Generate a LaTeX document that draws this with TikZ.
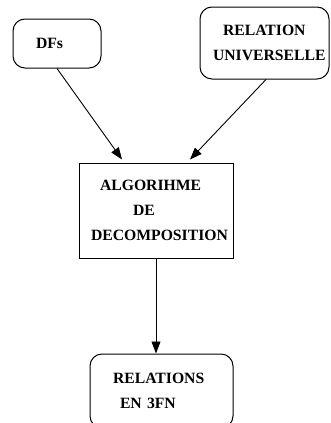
\documentclass[tikz,border=0pt]{standalone}
\usepackage{fontspec}
\setmainfont{Liberation Serif}
\usetikzlibrary{arrows.meta, positioning}
\newcommand{\diagfont}{\fontsize{15.7}{25}\selectfont\bfseries}

\begin{document}
\begin{tikzpicture}[x=1pt, y=-1pt,
    roundbox/.style={draw=black, line width=1pt, rounded corners=12pt, align=left, font=\diagfont},
    squarebox/.style={draw=black, line width=1pt, align=left, font=\diagfont},
    arrow/.style={-{Triangle[length=12pt, width=9pt]}, line width=0.9pt, draw=black}
  ]
  \useasboundingbox (0,0) rectangle (330,423);

  % Inputs
  \node[roundbox, minimum width=88pt, minimum height=49pt, inner xsep=23pt, text width=42pt] (dfs) at (57,43.5) {DFs};
  \node[roundbox, minimum width=129pt, minimum height=72pt, inner xsep=13pt, text width=103pt] (univ) at (264.5,43) {\hspace*{10pt}RELATION\\UNIVERSELLE};

  % Algorithm box
  \node[squarebox, minimum width=154pt, minimum height=95pt, inner xsep=12pt, text width=130pt] (algo) at (156,210.5) {\hspace*{9pt}ALGORIHME\\\hspace*{42pt}DE\\DECOMPOSITION};

  % Output
  \node[roundbox, minimum width=143pt, minimum height=74pt, inner xsep=23pt, text width=97pt] (rel3fn) at (161.5,391) {RELATIONS\\\hspace*{7pt}EN 3FN};

  % Arrows
  \draw[arrow] (dfs.south) -- ([xshift=-34pt, yshift=3pt]algo.north);
  \draw[arrow] ([xshift=1.5pt]univ.south) -- ([xshift=34pt, yshift=3pt]algo.north);
  \draw[arrow] (algo.south) -- (algo.south |- rel3fn.north);
\end{tikzpicture}
\end{document}
